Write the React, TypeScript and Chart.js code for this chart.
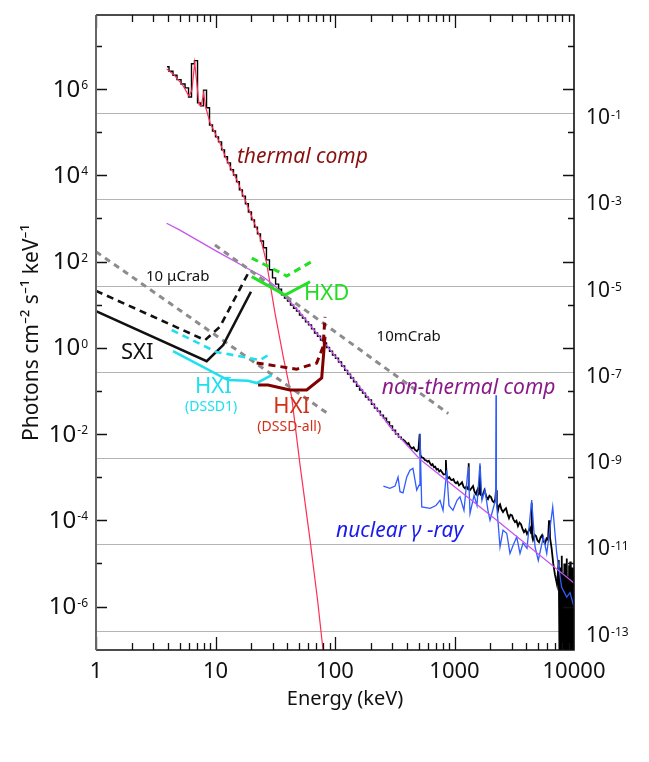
import React, { useEffect, useRef } from 'react';
import { Chart, registerables } from 'chart.js';

Chart.register(...registerables);

// ---------------- axes ----------------
const X_MIN = 1;
const X_MAX = 10000;
const Y_MIN = 9.8e-8; // photons cm^-2 s^-1 keV^-1
const Y_MAX = 5.25e7;
const RIGHT_SCALE = 3.72e-7; // right-hand axis = left value * RIGHT_SCALE
const X_TICKS = [1, 10, 100, 1000, 10000];
const LEFT_EXPONENTS = [6, 4, 2, 0, -2, -4, -6];
const RIGHT_EXPONENTS = [-1, -3, -5, -7, -9, -11, -13];
const Y_TICK_EXPONENTS = [-6, -5, -4, -3, -2, -1, 0, 1, 2, 3, 4, 5, 6, 7];

// ---------------- data: [energy keV, flux] ----------------
const OBS_THERMAL: [number, number][] = [
  [3.93, 3.3e6], [4.24, 2.6e6], [4.58, 2.1e6], [4.95, 1.66e6], [5.35, 1.32e6], [5.78, 1.07e6],
  [6.12, 6.6e5], [6.48, 3.9e6], [6.87, 4.6e6], [7.28, 4.8e5], [7.71, 4.1e5], [8.17, 9.5e5],
  [8.66, 3.7e5], [9.17, 1.48e5], [9.71, 1.07e5], [10.3, 7.8e4], [10.9, 6.0e4], [11.6, 3.9e4],
  [12.2, 2.7e4], [13.0, 1.95e4], [13.7, 1.35e4], [14.6, 1.02e4], [15.4, 7.1e3], [16.3, 4.6e3],
  [17.3, 3.3e3], [18.3, 2.2e3], [19.4, 1.41e3], [20.6, 930], [21.8, 630], [23.1, 440],
  [24.5, 300], [25.9, 210], [27.5, 110], [29.1, 65], [30.9, 42], [32.8, 30], [34.7, 23], [36.7, 17],
];
const OBS_CONTINUUM: [number, number][] = [
  [38.9, 14.3], [41.2, 12.2], [43.7, 9.8], [46.3, 8.3], [49.0, 7.1], [51.9, 5.75], [55.0, 4.9],
  [58.3, 4.0], [61.8, 3.4], [65.5, 2.75], [69.3, 2.2], [73.5, 1.86], [77.8, 1.51], [82.5, 1.29],
  [87.4, 1.02], [92.6, 0.83], [98.1, 0.68], [104, 0.575], [110, 0.47], [117, 0.38], [124, 0.30],
  [131, 0.245], [139, 0.20], [147, 0.162], [156, 0.129], [165, 0.105], [175, 0.089], [185, 0.072],
  [196, 0.062], [208, 0.049], [220, 0.040], [233, 0.034], [247, 0.0275], [262, 0.0234],
  [278, 0.019], [294, 0.0155], [312, 0.0123], [330, 0.0100], [350, 0.0085], [368, 7.6e-3],
];
const OBS_GAMMA: [number, number][] = [
  [368, 7.6e-3], [385, 6.9e-3], [400, 5.9e-3], [412, 6.2e-3], [424, 5.2e-3], [440, 4.6e-3],
  [455, 4.9e-3], [467, 4.3e-3], [485, 4.0e-3], [500, 4.5e-3], [511, 1.0e-2], [518, 3.3e-3],
  [530, 2.9e-3], [550, 2.8e-3], [565, 2.5e-3], [577, 2.45e-3], [595, 2.3e-3], [610, 2.4e-3],
  [624, 2.1e-3], [640, 1.9e-3], [655, 2.0e-3], [674, 1.7e-3], [690, 1.75e-3], [708, 1.5e-3],
  [727, 1.55e-3], [745, 1.35e-3], [765, 1.45e-3], [786, 1.3e-3], [810, 1.15e-3], [836, 1.18e-3],
  [847, 2.5e-3], [858, 1.1e-3], [883, 9.5e-4], [905, 1.0e-3], [930, 8.8e-4], [953, 8.5e-4],
  [980, 9.0e-4], [1005, 7.6e-4], [1030, 7.2e-4], [1060, 7.8e-4], [1091, 6.5e-4], [1120, 6.9e-4],
  [1156, 7.6e-4], [1190, 6.0e-4], [1225, 5.5e-4], [1260, 6.1e-4], [1300, 5.2e-4], [1310, 2.1e-3],
  [1320, 5.4e-4], [1349, 5.0e-4], [1390, 5.6e-4], [1429, 6.2e-4], [1470, 4.6e-4], [1514, 4.0e-4],
  [1545, 4.9e-4], [1574, 5.5e-4], [1600, 4.2e-4], [1625, 4.5e-4], [1634, 1.8e-3], [1645, 4.0e-4],
  [1670, 3.8e-4], [1698, 3.6e-4], [1750, 4.3e-4], [1780, 5.0e-4], [1799, 4.6e-4], [1850, 3.5e-4],
  [1905, 3.1e-4], [1960, 3.7e-4], [2020, 3.45e-4], [2080, 2.8e-4], [2142, 2.6e-4], [2190, 3.0e-4],
  [2225, 5.0e-4], [2260, 2.4e-4], [2312, 1.7e-4], [2360, 2.2e-4], [2404, 2.35e-4], [2470, 1.8e-4],
  [2547, 1.55e-4], [2620, 1.75e-4], [2698, 1.9e-4], [2780, 1.4e-4], [2858, 1.12e-4], [2940, 1.35e-4],
  [3028, 1.3e-4], [3110, 1.05e-4], [3208, 9.1e-5], [3300, 9.8e-5], [3398, 7.3e-5], [3500, 8.8e-5],
  [3600, 8.1e-5], [3700, 6.4e-5], [3814, 5.3e-5], [3930, 6.0e-5], [4044, 4.8e-5], [4160, 5.6e-5],
  [4285, 6.6e-5], [4380, 5.0e-5], [4426, 2.5e-4], [4470, 4.2e-5], [4540, 3.5e-5], [4680, 4.6e-5],
  [4810, 4.3e-5], [4950, 3.4e-5], [5096, 3.1e-5], [5250, 4.0e-5], [5398, 4.5e-5], [5560, 3.3e-5],
  [5719, 2.9e-5], [5890, 3.8e-5], [6059, 3.5e-5], [6180, 1.0e-4], [6295, 4.0e-5], [6500, 2.2e-5],
  [6700, 1.0e-5], [6934, 5.4e-6], [7213, 3.2e-6],
];
const OBS_TAIL: [number, number][] = [
  [7213, 3.2e-6], [7450, 1.2e-5], [7600, 1e-8], [7700, 8e-6], [7800, 1e-8], [7900, 1.5e-5], [8000, 2e-8],
  [8100, 6e-6], [8200, 1e-8], [8300, 1.0e-5], [8400, 1e-8], [8500, 7e-6], [8600, 3e-8],
  [8700, 1.3e-5], [8800, 1e-8], [8900, 5e-6], [9000, 1e-8], [9100, 9e-6], [9200, 2e-8],
  [9300, 1.1e-5], [9400, 1e-8], [9500, 6e-6], [9600, 1e-8], [9700, 8e-6], [9800, 1e-8],
  [9900, 5e-6], [10000, 1e-8],
];
const THERMAL_MODEL: [number, number][] = [
  [3.9, 2.95e6], [4.58, 2.04e6], [5.35, 1.2e6], [6.0, 6.9e5], [6.35, 9.5e5], [6.7, 4.1e6],
  [7.0, 1.26e6], [7.28, 4.4e5], [7.6, 4.1e5], [7.95, 8.1e5], [8.3, 3.7e5], [9.0, 1.66e5],
  [10.9, 5.6e4], [12.4, 2.3e4], [15.1, 7.8e3], [17.7, 2.7e3], [20.1, 1.1e3], [23.6, 370],
  [25.2, 186], [26.8, 91], [31.5, 6.3], [36.9, 0.62], [43.4, 0.072], [51, 1.9e-3],
  [61.8, 3.5e-5], [71.5, 1.4e-6], [79.4, 9.8e-8], [83, 3.3e-8],
];
const NONTHERMAL_MODEL: [number, number][] = [
  [3.9, 776], [5.04, 537], [10, 180], [19.4, 64.6], [25, 44.7], [31.5, 27.2], [39.5, 14.1],
  [51, 6.5], [82.5, 1.27], [196, 0.062], [289, 0.0148], [514, 2.6e-3], [2255, 1.0e-4], [10000, 3.5e-6],
];
const NUCLEAR_GAMMA: [number, number][] = [
  [254, 6.2e-4], [288, 5.5e-4], [318, 6.2e-4], [337, 1.0e-3], [350, 4.6e-4], [371, 4.3e-4],
  [398, 1.0e-3], [424, 1.45e-3], [449, 1.6e-3], [483, 5.0e-4], [505, 6.5e-4], [514, 1.03e-2],
  [532, 2.05e-4], [624, 1.9e-4], [700, 2.2e-4], [756, 2.9e-4], [802, 1.7e-4], [860, 1.45e-3],
  [899, 2.2e-4], [971, 1.7e-4], [1050, 2.9e-4], [1111, 3.5e-4], [1200, 1.7e-4], [1304, 1.74e-3],
  [1349, 1.45e-4], [1457, 3.8e-4], [1542, 2.2e-4], [1634, 2.1e-3], [1698, 2.9e-4], [1799, 5.0e-4],
  [1905, 1.7e-4], [1982, 1.0e-4], [2142, 2.2e-4], [2210, 3.0e-4], [2225, 7.9e-2], [2240, 3.0e-4],
  [2290, 1.3e-4], [2404, 2.4e-5], [2547, 5.9e-5], [2735, 5.0e-5], [2913, 1.7e-5], [3090, 2.6e-5],
  [3316, 4.1e-5], [3533, 1.7e-5], [3742, 2.95e-5], [4044, 2.24e-5], [4426, 2.95e-4], [4721, 2.4e-5],
  [5026, 1.17e-5], [5537, 4.1e-5], [5912, 1.7e-5], [6637, 2.05e-4], [7167, 1.7e-5], [7886, 2.8e-6],
  [8690, 1.65e-6], [9260, 2.1e-6], [10000, 9.8e-7],
];
const CRAB_10U: [number, number][] = [[1, 170], [90.8, 0.0275]];
const CRAB_10M: [number, number][] = [[9.9, 243], [887, 0.030]];
const SXI_SOLID: [number, number][] = [[1, 7.1], [8.44, 0.49], [11.6, 1.16], [19.8, 20]];
const SXI_DASHED: [number, number][] = [[1, 21], [8.17, 1.51], [10.9, 3.1], [19.4, 64]];
const HXI1_SOLID: [number, number][] = [[4.41, 0.84], [12.7, 0.179], [18.7, 0.172], [22.1, 0.152], [29.5, 0.233]];
const HXI1_DASHED: [number, number][] = [[4.30, 2.59], [10.2, 0.80], [23.6, 0.52], [28.6, 0.72]];
const HXIALL_SOLID: [number, number][] = [[22.7, 0.137], [27.5, 0.137], [42.0, 0.105], [58.0, 0.105], [77.4, 0.20], [82.5, 1.81]];
const HXIALL_DASHED: [number, number][] = [[22.1, 0.444], [47.8, 0.321], [70.3, 0.444], [79.4, 1.06], [82.5, 5.25]];
const HXD_SOLID: [number, number][] = [[20.1, 44.7], [38.2, 16.8], [61.8, 34.2]];
const HXD_DASHED: [number, number][] = [[20.1, 121], [39.4, 46.5], [63.8, 100]];

// text labels anchored at [energy, flux] (left edge, vertical middle)
const LABELS = [
  { text: 'thermal comp', e: 15.1, f: 2.7e4, color: '#8a1010', size: 21, italic: true },
  { text: '10 μCrab', e: 2.62, f: 44, color: '#111111', size: 15, italic: false },
  { text: 'HXD', e: 55.0, f: 17.8, color: '#22dd22', size: 22, italic: false },
  { text: '10mCrab', e: 223, f: 1.81, color: '#111111', size: 15, italic: false },
  { text: 'SXI', e: 1.62, f: 0.76, color: '#111111', size: 22, italic: false },
  { text: 'HXI', e: 6.74, f: 0.123, color: '#1ee0f0', size: 22, italic: false },
  { text: '(DSSD1)', e: 5.56, f: 0.0428, color: '#1ee0f0', size: 14, italic: false },
  { text: 'HXI', e: 30.5, f: 0.0422, color: '#d2301a', size: 22, italic: false },
  { text: '(DSSD-all)', e: 22.4, f: 0.0145, color: '#d2301a', size: 14, italic: false },
  { text: 'non-thermal comp', e: 246, f: 0.116, color: '#8a1a8a', size: 21, italic: true },
  { text: 'nuclear γ -ray', e: 102, f: 5.6e-5, color: '#1a1aee', size: 21, italic: true },
];

const FONT = '"Noto Sans", "DejaVu Sans", sans-serif';

const pts = (a: [number, number][]) => a.map(([x, y]) => ({ x, y }));

function line(data: [number, number][], color: string, width: number, extra: any = {}) {
  return {
    data: pts(data),
    borderColor: color,
    backgroundColor: color,
    borderWidth: width,
    pointRadius: 0,
    fill: false,
    tension: 0,
    xAxisID: 'x',
    yAxisID: 'y',
    ...extra,
  };
}

function drawPower(ctx: CanvasRenderingContext2D, exp: number, x: number, cy: number, align: 'left' | 'right', baseSize: number, expSize: number) {
  const base = '10';
  const ex = String(exp);
  ctx.font = `${baseSize}px ${FONT}`;
  const wb = ctx.measureText(base).width;
  ctx.font = `${expSize}px ${FONT}`;
  const we = ctx.measureText(ex).width;
  const left = align === 'right' ? x - wb - we - 1 : x;
  const capB = baseSize * 0.714;
  const capE = expSize * 0.714;
  ctx.textAlign = 'left';
  ctx.textBaseline = 'alphabetic';
  ctx.fillStyle = '#111';
  ctx.font = `${baseSize}px ${FONT}`;
  ctx.fillText(base, left, cy + capB / 2);
  ctx.font = `${expSize}px ${FONT}`;
  ctx.fillText(ex, left + wb + 1, cy - capB / 2 + capE + 1);
}

const decorations = {
  id: 'decorations',
  afterDatasetsDraw(chart: any) {
    const { ctx, scales } = chart;
    const x = scales.x;
    const y = scales.y;
    ctx.save();
    for (const a of LABELS) {
      ctx.font = `${a.italic ? 'italic ' : ''}${a.size}px ${FONT}`;
      ctx.fillStyle = a.color;
      ctx.textAlign = 'left';
      ctx.textBaseline = 'middle';
      ctx.fillText(a.text, x.getPixelForValue(a.e), y.getPixelForValue(a.f));
    }
    ctx.restore();
  },
  afterDraw(chart: any) {
    const { ctx, chartArea: ca, scales } = chart;
    const x = scales.x;
    const y = scales.y;
    const y2 = scales.y2;
    ctx.save();
    // inward tick marks
    ctx.strokeStyle = '#111';
    ctx.lineWidth = 1.3;
    ctx.beginPath();
    for (let d = 0; d < 4; d++) {
      for (let m = 1; m <= 9; m++) {
        const v = m * Math.pow(10, d);
        const px = Math.round(x.getPixelForValue(v)) + 0.5;
        const len = m === 1 ? 13 : 7;
        ctx.moveTo(px, ca.bottom);
        ctx.lineTo(px, ca.bottom - len);
        ctx.moveTo(px, ca.top);
        ctx.lineTo(px, ca.top + len);
      }
    }
    for (const e of Y_TICK_EXPONENTS) {
      const py = Math.round(y.getPixelForValue(Math.pow(10, e))) + 0.5;
      const len = e % 2 === 0 ? 11 : 6;
      ctx.moveTo(ca.left, py);
      ctx.lineTo(ca.left + len, py);
      ctx.moveTo(ca.right, py);
      ctx.lineTo(ca.right - len, py);
    }
    ctx.stroke();
    // frame
    ctx.lineWidth = 1.6;
    ctx.strokeStyle = '#111';
    ctx.beginPath();
    ctx.moveTo(ca.left, ca.bottom);
    ctx.lineTo(ca.right, ca.bottom);
    ctx.lineTo(ca.right, ca.top);
    ctx.lineTo(ca.left, ca.top);
    ctx.stroke();
    ctx.strokeStyle = '#666';
    ctx.lineWidth = 2;
    ctx.beginPath();
    ctx.moveTo(ca.left, ca.top);
    ctx.lineTo(ca.left, ca.bottom);
    ctx.stroke();
    // left labels
    for (const e of LEFT_EXPONENTS) {
      drawPower(ctx, e, ca.left - 8, y.getPixelForValue(Math.pow(10, e)) - 1, 'right', 24, 12);
    }
    // right labels
    for (const e of RIGHT_EXPONENTS) {
      drawPower(ctx, e, ca.right + 12, y2.getPixelForValue(Math.pow(10, e)) + 3, 'left', 21, 12);
    }
    // x title
    ctx.fillStyle = '#111';
    ctx.font = `20px ${FONT}`;
    ctx.textAlign = 'center';
    ctx.textBaseline = 'middle';
    ctx.fillText('Energy (keV)', (ca.left + ca.right) / 2 + 10, 699);
    ctx.restore();
  },
};

export default function App() {
  const ref = useRef<HTMLCanvasElement>(null);
  useEffect(() => {
    const canvas = ref.current;
    if (!canvas) return;
    const datasets: any[] = [
      line(HXD_SOLID, '#22e022', 3),
      line(HXD_DASHED, '#22e022', 3, { borderDash: [7, 5] }),
      line(HXIALL_SOLID, '#800000', 3),
      line(HXIALL_DASHED, '#800000', 3, { borderDash: [7, 5] }),
      line(HXI1_SOLID, '#1ee0f0', 2.6),
      line(HXI1_DASHED, '#1ee0f0', 2.6, { borderDash: [7, 5] }),
      line(SXI_SOLID, '#111111', 2.6),
      line(SXI_DASHED, '#111111', 2.6, { borderDash: [7, 5] }),
      line(CRAB_10U, '#8c8c8c', 3, { borderDash: [6, 5] }),
      line(CRAB_10M, '#8c8c8c', 3, { borderDash: [6, 5] }),
      line(NONTHERMAL_MODEL, '#c455f0', 1.3),
      line(NUCLEAR_GAMMA, '#2f5cff', 1.3),
      line(THERMAL_MODEL, '#ff2e55', 1.2),
      line([...OBS_THERMAL, ...OBS_CONTINUUM], '#000000', 1.4, { stepped: 'middle' }),
      line([...OBS_GAMMA, ...OBS_TAIL], '#000000', 1.8),
    ];
    const chart = new Chart(canvas, {
      type: 'line',
      data: { datasets },
      options: {
        responsive: false,
        maintainAspectRatio: false,
        animation: false,
        devicePixelRatio: 1,
        layout: { padding: { top: 15, left: 0, right: 0, bottom: 0 } },
        plugins: { legend: { display: false }, tooltip: { enabled: false }, title: { display: false } },
        scales: {
          x: {
            type: 'logarithmic',
            position: 'bottom',
            min: X_MIN,
            max: X_MAX,
            afterBuildTicks: (s: any) => { s.ticks = X_TICKS.map((v) => ({ value: v })); },
            afterFit: (s: any) => { s.height = 112; },
            grid: { display: false, drawTicks: false },
            border: { display: false },
            ticks: {
              autoSkip: false,
              maxRotation: 0,
              padding: 9,
              color: '#111',
              font: { size: 22, family: FONT },
              callback: (v: any) => String(v),
            },
          },
          y: {
            type: 'logarithmic',
            position: 'left',
            min: Y_MIN,
            max: Y_MAX,
            afterFit: (s: any) => { s.width = 96; },
            grid: { display: false, drawTicks: false },
            border: { display: false },
            ticks: { display: false },
            title: {
              display: true,
              text: 'Photons cm⁻² s⁻¹ keV⁻¹',
              color: '#111',
              font: { size: 21, family: FONT },
              padding: { top: 19, bottom: 0 },
            },
          },
          y2: {
            type: 'logarithmic',
            position: 'right',
            min: Y_MIN * RIGHT_SCALE,
            max: Y_MAX * RIGHT_SCALE,
            afterBuildTicks: (s: any) => { s.ticks = RIGHT_EXPONENTS.map((e) => ({ value: Math.pow(10, e) })); },
            afterFit: (s: any) => { s.width = 75; },
            grid: { display: true, drawOnChartArea: true, drawTicks: false, color: '#b4b4b4', lineWidth: 1 },
            border: { display: false },
            ticks: { display: false },
          },
        },
      },
      plugins: [decorations],
    } as any);
    return () => chart.destroy();
  }, []);
  return (
    <div style={{ position: 'absolute', left: 0, top: 0, width: 649, height: 762, background: '#fff' }}>
      <canvas ref={ref} width={649} height={762} style={{ display: 'block', width: 649, height: 762 }} />
    </div>
  );
}
